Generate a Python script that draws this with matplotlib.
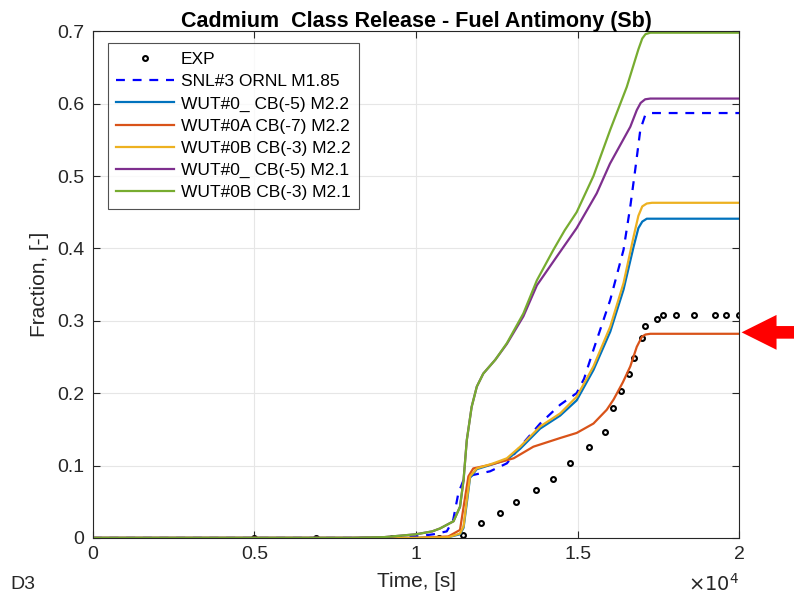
import matplotlib
matplotlib.use("Agg")
import matplotlib.pyplot as plt
from matplotlib.patches import FancyArrow

plt.rcParams['font.family'] = ['Liberation Sans', 'DejaVu Sans']

# experimental release fraction
exp_t = [5000, 6900, 9250, 10700, 11450, 12000, 12600, 13100, 13700, 14250, 14750,
         15350, 15850, 16100, 16350, 16600, 16750, 17000, 17100, 17450, 17650,
         18050, 18600, 19250, 19600, 20000]
exp_f = [0, 0, 0, 0, 0.004, 0.020, 0.035, 0.049, 0.066, 0.082, 0.104,
         0.125, 0.146, 0.180, 0.203, 0.227, 0.248, 0.276, 0.293, 0.303, 0.308,
         0.308, 0.308, 0.308, 0.308, 0.308]

# SNL#3 ORNL M1.85
snl_t = [0, 9000, 10000, 10540, 10950, 11150, 11310, 11470, 11770, 12290, 12810, 13220,
         13840, 14460, 14970, 15200, 15490, 16010, 16420, 16630, 16780, 16940, 17090,
         17300, 20000]
snl_f = [0, 0, 0.002, 0.005, 0.009, 0.025, 0.062, 0.080, 0.087, 0.092, 0.103, 0.126,
         0.158, 0.184, 0.200, 0.220, 0.260, 0.329, 0.398, 0.458, 0.508, 0.564, 0.584,
         0.587, 0.587]

# WUT#0_ CB(-5) M2.2
w0_22_t = [0, 10000, 11000, 11360, 11470, 11570, 11670, 11880, 12390, 12810, 13220,
           13840, 14460, 14970, 15490, 16010, 16420, 16730, 16880, 17000, 17140, 17300, 20000]
w0_22_f = [0, 0, 0.001, 0.005, 0.014, 0.048, 0.083, 0.095, 0.102, 0.108, 0.123,
           0.151, 0.169, 0.190, 0.232, 0.285, 0.343, 0.402, 0.428, 0.437, 0.441, 0.441, 0.441]

# WUT#0A CB(-7) M2.2
w0a_22_t = [0, 10000, 11000, 11360, 11520, 11620, 11770, 12290, 13020, 13630, 14460,
            14970, 15490, 15900, 16110, 16400, 16630, 16830, 16990, 17100, 17250, 20000]
w0a_22_f = [0, 0, 0.002, 0.011, 0.057, 0.085, 0.096, 0.101, 0.110, 0.126, 0.138,
            0.145, 0.158, 0.177, 0.191, 0.215, 0.237, 0.264, 0.278, 0.281, 0.282, 0.282]

# WUT#0B CB(-3) M2.2
w0b_22_t = [0, 10000, 11000, 11360, 11470, 11570, 11670, 11880, 12390, 12810, 13220,
            13840, 14460, 14970, 15490, 16010, 16420, 16730, 16880, 17000, 17140, 17300, 20000]
w0b_22_f = [0, 0, 0.001, 0.006, 0.016, 0.052, 0.085, 0.096, 0.103, 0.110, 0.126,
            0.154, 0.172, 0.195, 0.237, 0.292, 0.352, 0.416, 0.445, 0.458, 0.462, 0.463, 0.463]

# WUT#0_ CB(-5) M2.1
w0_21_t = [0, 8000, 9000, 10000, 10500, 10740, 11160, 11360, 11470, 11570, 11720, 11880,
           12080, 12450, 12810, 13320, 13740, 14360, 14970, 15590, 16000, 16630, 16830,
           16950, 17090, 17250, 20000]
w0_21_f = [0, 0, 0.001, 0.005, 0.009, 0.013, 0.023, 0.043, 0.080, 0.135, 0.181, 0.209,
           0.227, 0.246, 0.268, 0.306, 0.349, 0.389, 0.428, 0.476, 0.517, 0.568, 0.591,
           0.601, 0.606, 0.607, 0.607]

# WUT#0B CB(-3) M2.1
w0b_21_t = [0, 8000, 9000, 10000, 10500, 10740, 11160, 11360, 11470, 11570, 11720, 11880,
            12080, 12450, 12810, 13320, 13740, 14250, 14600, 14970, 15490, 16010, 16520,
            16880, 17000, 17100, 17250, 20000]
w0b_21_f = [0, 0, 0.001, 0.005, 0.009, 0.013, 0.023, 0.043, 0.080, 0.135, 0.181, 0.209,
            0.227, 0.246, 0.269, 0.310, 0.356, 0.398, 0.425, 0.450, 0.500, 0.564, 0.623,
            0.675, 0.690, 0.696, 0.698, 0.698]

fig = plt.figure(figsize=(7.94, 6.01), dpi=100)
ax = fig.add_axes([0.117, 0.105, 0.814, 0.843])

ax.plot(exp_t, exp_f, 'o', ls='none', mfc='none', mec='black', ms=3.5, mew=1.5, label='EXP')
ax.plot(snl_t, snl_f, '--', color='blue', lw=1.6, dashes=(4, 3.5), label='SNL#3 ORNL M1.85')
ax.plot(w0_22_t, w0_22_f, color='#0072BD', lw=1.6, label='WUT#0_ CB(-5) M2.2')
ax.plot(w0a_22_t, w0a_22_f, color='#D95319', lw=1.6, label='WUT#0A CB(-7) M2.2')
ax.plot(w0b_22_t, w0b_22_f, color='#EDB120', lw=1.6, label='WUT#0B CB(-3) M2.2')
ax.plot(w0_21_t, w0_21_f, color='#7E2F8E', lw=1.6, label='WUT#0_ CB(-5) M2.1')
ax.plot(w0b_21_t, w0b_21_f, color='#77AC30', lw=1.6, label='WUT#0B CB(-3) M2.1')

ax.set_xlim(0, 20000)
ax.set_ylim(0, 0.7)
ax.set_xticks([0, 5000, 10000, 15000, 20000])
ax.set_xticklabels(['0', '0.5', '1', '1.5', '2'])
ax.set_yticks([0, 0.1, 0.2, 0.3, 0.4, 0.5, 0.6, 0.7])
ax.set_yticklabels(['0', '0.1', '0.2', '0.3', '0.4', '0.5', '0.6', '0.7'])
ax.tick_params(direction='in', top=True, right=True, labelsize=14, colors='#262626',
               length=5, pad=6)
ax.grid(True, color='#e6e6e6', lw=0.8)
ax.set_axisbelow(True)
for s in ax.spines.values():
    s.set_color('#262626')
    s.set_linewidth(0.8)

ax.set_title('Cadmium  Class Release - Fuel Antimony (Sb)', fontsize=15.5,
             fontweight='bold', pad=3)
ax.set_xlabel('Time, [s]', fontsize=15, color='#262626', labelpad=6)
ax.set_ylabel('Fraction, [-]', fontsize=15, color='#262626', labelpad=6)
ax.text(1.0, -0.09, r'$\times10^4$', transform=ax.transAxes, ha='right', va='center',
        fontsize=14, color='#262626')
fig.text(0.013, 0.02, 'D3', fontsize=14, color='#262626')

leg = ax.legend(loc='upper left', bbox_to_anchor=(0.023, 0.976), fontsize=12.5,
                frameon=True, fancybox=False, edgecolor='#262626', handlelength=3.3,
                borderpad=0.5, labelspacing=0.4, handletextpad=0.4, borderaxespad=0)
leg.get_frame().set_linewidth(0.8)

# red marker arrow at the right edge
arr = FancyArrow(1.0, 0.447, -0.066, 0, width=0.021, head_width=0.058,
                 head_length=0.044, length_includes_head=True,
                 transform=fig.transFigure, color='red', lw=0)
fig.patches.append(arr)

fig.savefig('out.png', dpi=100)
